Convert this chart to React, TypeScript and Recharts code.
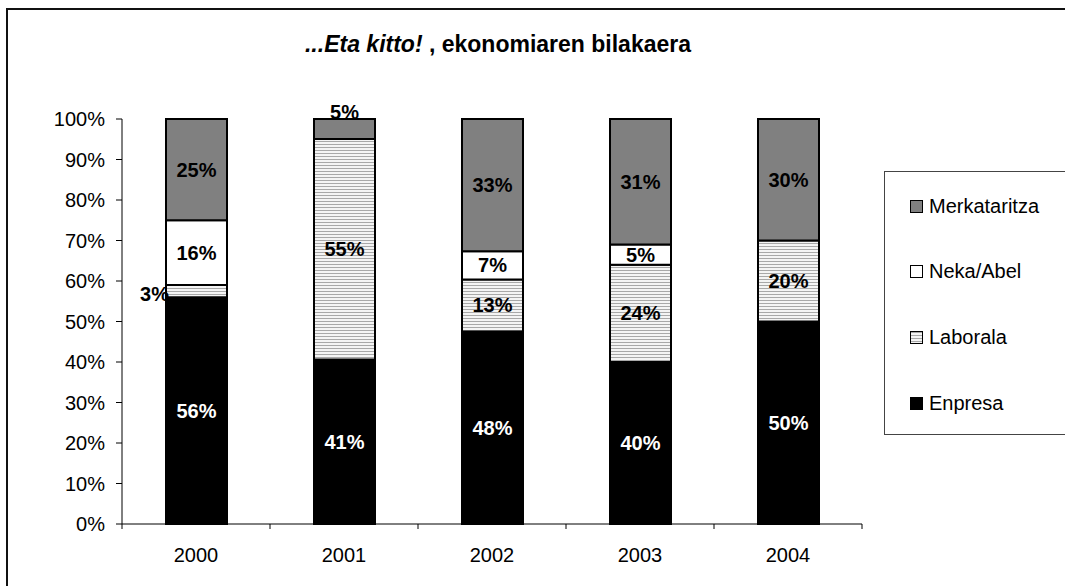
import React from 'react';
import { BarChart, Bar, XAxis, YAxis, LabelList } from 'recharts';

const years = ['2000', '2001', '2002', '2003', '2004'];
const enpresa = [56, 41, 48, 40, 50];
const laborala = [3, 55, 13, 24, 20];
const nekaAbel = [16, 0, 7, 5, 0];
const merkataritza = [25, 5, 33, 31, 30];
const yTicks = [0, 0.1, 0.2, 0.3, 0.4, 0.5, 0.6, 0.7, 0.8, 0.9, 1];

const data = years.map((year, i) => ({
  year,
  Enpresa: enpresa[i],
  Laborala: laborala[i],
  'Neka/Abel': nekaAbel[i],
  Merkataritza: merkataritza[i],
}));

const W = 1065;
const H = 586;
const M = { top: 119, right: 203, bottom: 32, left: 0 };
const YW = 122;
const XH = 30;
const plotW = W - M.left - M.right - YW;
const axisY = H - M.bottom - XH;
const band = plotW / years.length;
const FONT = '"Liberation Sans", Arial, sans-serif';
const FS = 20;

const makeLabel = (color: string, isTop: boolean) => (props: any) => {
  const { x, y, width, height, value } = props;
  if (!value) return null;
  const h = Math.abs(height);
  let tx = x + width / 2;
  let ty = y + height / 2;
  let anchor: 'middle' | 'end' = 'middle';
  let fill = color;
  if (isTop && h < 24) {
    ty = y - 7;
    fill = '#000';
  } else if (!isTop && h < 16) {
    tx = x + 3;
    ty = y + height / 2 + 3;
    anchor = 'end';
    fill = '#000';
  }
  return (
    <text
      x={tx}
      y={ty}
      textAnchor={anchor}
      dominantBaseline="central"
      fill={fill}
      fontSize={FS}
      fontWeight="bold"
      fontFamily={FONT}
    >
      {value}%
    </text>
  );
};

const XTick = (props: any) => {
  const { x, payload, index } = props;
  return (
    <g>
      <line x1={x - band / 2} x2={x - band / 2} y1={axisY} y2={axisY + 5} stroke="#000" />
      {index === years.length - 1 && (
        <line x1={x + band / 2} x2={x + band / 2} y1={axisY} y2={axisY + 5} stroke="#000" />
      )}
      <text
        x={x}
        y={axisY + 31}
        textAnchor="middle"
        dominantBaseline="central"
        fill="#000"
        fontSize={FS}
        fontFamily={FONT}
      >
        {payload.value}
      </text>
    </g>
  );
};

const legendItems = [
  { name: 'Merkataritza', bg: '#808080' },
  { name: 'Neka/Abel', bg: '#ffffff' },
  { name: 'Laborala', bg: 'repeating-linear-gradient(to bottom, #a8a8a8 0px, #a8a8a8 1px, #f4f4f4 1px, #f4f4f4 3px)' },
  { name: 'Enpresa', bg: '#000000' },
];

const LegendBox = () => (
  <div
    style={{
      position: 'absolute',
      left: 884,
      top: 171,
      width: 250,
      height: 264,
      border: '1px solid #444',
      boxSizing: 'border-box',
      background: '#fff',
    }}
  >
    {legendItems.map((it, i) => (
      <div
        key={it.name}
        style={{
          position: 'absolute',
          left: 25,
          top: 34 + i * 65.7 - 12,
          height: 24,
          display: 'flex',
          alignItems: 'center',
          fontFamily: FONT,
          fontSize: FS,
          color: '#000',
          whiteSpace: 'nowrap',
        }}
      >
        <span
          style={{
            display: 'inline-block',
            width: 11,
            height: 11,
            border: '1px solid #000',
            background: it.bg,
            marginRight: 6,
          }}
        />
        {it.name}
      </div>
    ))}
  </div>
);

export default function App() {
  return (
    <div
      style={{
        position: 'fixed',
        left: 0,
        top: 0,
        width: W,
        height: H,
        overflow: 'hidden',
        background: '#fff',
      }}
    >
      <div
        style={{
          position: 'absolute',
          left: 6,
          top: 8,
          width: 1200,
          height: 800,
          border: '2px solid #111',
        }}
      />
      <div
        style={{
          position: 'absolute',
          left: 0,
          top: 31,
          width: 996,
          textAlign: 'center',
          fontFamily: FONT,
          fontSize: 23,
          fontWeight: 'bold',
          color: '#000',
          whiteSpace: 'nowrap',
        }}
      >
        <i>...Eta kitto!</i> , ekonomiaren bilakaera
      </div>
      <div style={{ position: 'absolute', left: 0, top: 0 }}>
        <BarChart width={W} height={H} data={data} margin={M} stackOffset="expand" barSize={61}>
          <defs>
            <pattern id="hlines" patternUnits="userSpaceOnUse" width={6} height={3}>
              <rect x={0} y={0} width={6} height={3} fill="#f4f4f4" />
              <rect x={0} y={0} width={6} height={1} fill="#a8a8a8" />
            </pattern>
          </defs>
          <XAxis
            dataKey="year"
            height={XH}
            tickLine={false}
            axisLine={{ stroke: '#000' }}
            tick={<XTick />}
            interval={0}
          />
          <YAxis
            width={YW}
            domain={[0, 1]}
            ticks={yTicks}
            tickFormatter={(v: number) => `${Math.round(v * 100)}%`}
            axisLine={{ stroke: '#000' }}
            tickLine={{ stroke: '#000' }}
            tickSize={6}
            tickMargin={11}
            tick={{ fill: '#000', fontSize: FS, fontFamily: FONT }}
            interval={0}
          />
          <Bar dataKey="Enpresa" stackId="a" fill="#000" stroke="#000" strokeWidth={2} isAnimationActive={false}>
            <LabelList dataKey="Enpresa" content={makeLabel('#fff', false)} />
          </Bar>
          <Bar dataKey="Laborala" stackId="a" fill="url(#hlines)" stroke="#000" strokeWidth={2} isAnimationActive={false}>
            <LabelList dataKey="Laborala" content={makeLabel('#000', false)} />
          </Bar>
          <Bar dataKey="Neka/Abel" stackId="a" fill="#fff" stroke="#000" strokeWidth={2} isAnimationActive={false}>
            <LabelList dataKey="Neka/Abel" content={makeLabel('#000', false)} />
          </Bar>
          <Bar dataKey="Merkataritza" stackId="a" fill="#808080" stroke="#000" strokeWidth={2} isAnimationActive={false}>
            <LabelList dataKey="Merkataritza" content={makeLabel('#000', true)} />
          </Bar>
        </BarChart>
      </div>
      <LegendBox />
    </div>
  );
}
